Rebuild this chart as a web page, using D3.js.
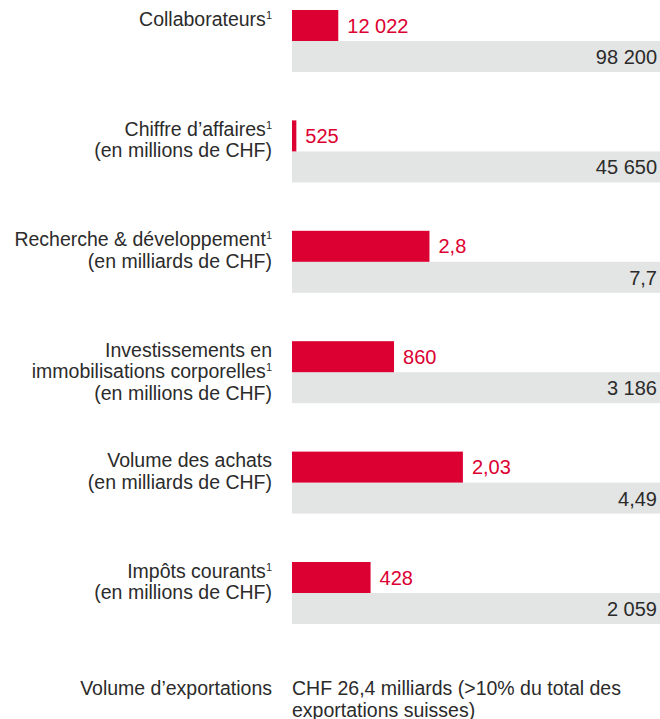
<!DOCTYPE html>
<html>
<head>
<meta charset="utf-8">
<script src="https://cdn.jsdelivr.net/npm/d3@7"></script>
<style>
  html, body { margin: 0; padding: 0; background: #fff; }
  svg { display: block; }
  text { font-family: "Liberation Sans", Arial, sans-serif; }
</style>
</head>
<body>
<svg id="chart" width="660" height="719"></svg>
<script>
// ---- data ----
const categories = [
  "Collaborateurs",
  "Chiffre d’affaires",
  "Recherche & développement",
  "Investissements en immobilisations corporelles",
  "Volume des achats",
  "Impôts courants"
];
const labelLines = [
  ["Collaborateurs¹"],
  ["Chiffre d’affaires¹", "(en millions de CHF)"],
  ["Recherche & développement¹", "(en milliards de CHF)"],
  ["Investissements en", "immobilisations corporelles¹", "(en millions de CHF)"],
  ["Volume des achats", "(en milliards de CHF)"],
  ["Impôts courants¹", "(en millions de CHF)"]
];
const swissValues = [12022, 525, 2.8, 860, 2.03, 428];
const globalValues = [98200, 45650, 7.7, 3186, 4.49, 2059];
const footerLabel = "Volume d’exportations";
const footerText = ["CHF 26,4 milliards (>10% du total des", "exportations suisses)"];

// ---- chart ----
const svg = d3.select("#chart");
const red = "#dc0032", grey = "#e3e4e4", ink = "#2b2b2b";
const x0 = 292, x1 = 670, barH = 31;
const fr = d3.formatLocale({decimal: ",", thousands: " ", grouping: [3], currency: ["", " CHF"]});
const fmt = fr.format(",");

const y = d3.scalePoint().domain(categories).range([10, 562]);

const rows = svg.selectAll("g.row")
  .data(categories.map((c, i) => ({c, i, swiss: swissValues[i], total: globalValues[i], lines: labelLines[i]})))
  .join("g").attr("class", "row")
  .attr("transform", d => `translate(0,${y(d.c)})`);

rows.each(function(d) {
  const g = d3.select(this);
  const x = d3.scaleLinear().domain([0, d.total]).range([x0, x1]);
  g.append("rect").attr("x", x(0)).attr("y", barH).attr("width", x(d.total) - x(0)).attr("height", barH).attr("fill", grey);
  g.append("rect").attr("x", x(0)).attr("y", 0).attr("width", x(d.swiss) - x(0)).attr("height", barH).attr("fill", red);
  g.append("text").attr("x", x(d.swiss) + 9).attr("y", 22.5)
    .attr("font-size", 20).attr("fill", red).text(fmt(d.swiss));
  g.append("text").attr("x", 657).attr("y", barH + 23).attr("text-anchor", "end")
    .attr("font-size", 20).attr("fill", ink).text(fmt(d.total));

  d.lines.forEach((line, li) => {
    const t = g.append("text").attr("x", 272).attr("y", 15.5 + li * 21.5)
      .attr("text-anchor", "end").attr("font-size", 19.5).attr("fill", ink);
    const parts = line.split("¹");
    t.append("tspan").text(parts[0]);
    if (parts.length > 1) {
      t.append("tspan").attr("font-size", 11).attr("dy", -7).text("1");
    }
  });
});

svg.append("text").attr("x", 272).attr("y", 695).attr("text-anchor", "end")
  .attr("font-size", 19.5).attr("fill", ink).text(footerLabel);
svg.selectAll("text.foot").data(footerText).join("text").attr("class", "foot")
  .attr("x", x0).attr("y", (d, i) => 695 + i * 21.5)
  .attr("font-size", 19.5).attr("fill", ink).text(d => d);
</script>
</body>
</html>
